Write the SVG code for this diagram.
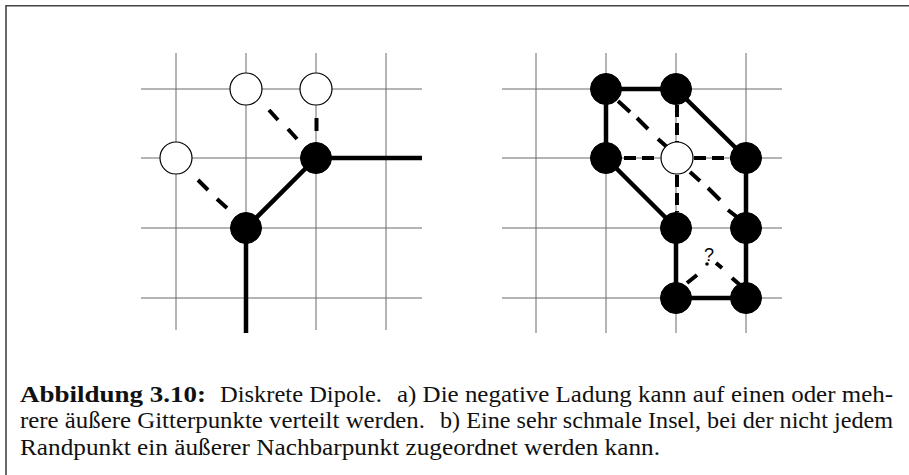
<svg xmlns="http://www.w3.org/2000/svg" width="909" height="475" viewBox="0 0 909 475">
<style>
.grid{stroke:#6a6a6a;stroke-width:1;fill:none}
.frame{stroke:#444;stroke-width:1.6;fill:none}
.solid{stroke:#000;stroke-width:4.5;fill:none}
.dash{stroke:#000;stroke-width:4;fill:none}
.cross{stroke:#000;stroke-width:4;fill:none;stroke-dasharray:12 6}
.full{fill:#000;stroke:#000;stroke-width:1}
.open{fill:#fff;stroke:#000;stroke-width:1.2}
</style>
<rect width="909" height="475" fill="#fff"/>
<path class="frame" d="M6,476 V5.8 H909"/>
<g id="grid">
<path class="grid" d="M176,53V330M246,53V330M316,53V330M386,53V330M141,89H422M141,158H422M141,228H422M141,298H422"/>
<path class="grid" d="M536,53V333M606,53V333M676,53V333M746,53V333M502,89H782M502,158H782M502,228H782M502,298H782"/>
</g>
<g id="connectors">
<path class="solid" d="M316,158H422M316,158L246,228M246,228V333"/>
<path class="dash" d="M269,110L278,120M288,129L297,139M316.5,118V131M198,180L208,190M217,199L227,208"/>
<path class="solid" d="M606,89H676M606,89V158M676,89L746,158M606,158L676,228M746,158V228M676,228V298M746,228V298M676,298H746"/>
<path class="dash" d="M618,101L630,112M637,118L648,129M658,139L667,147M690,172L700,181M708,188L720,200M728,210L737,217"/>
<path class="cross" d="M677,105V142M624,158H660M694,158H731M677,175V212"/>
<path class="dash" d="M687,283L697,275M732,278L740,285M716,263L722,268"/>
<circle cx="707" cy="264" r="1.8" fill="#000"/>
<text x="704" y="261" font-size="18" font-family="Liberation Sans">?</text>
</g>
<g id="nodes-a">
<circle id="a1" class="open" cx="246" cy="89" r="16"/>
<circle id="a2" class="open" cx="316" cy="89" r="16"/>
<circle id="a3" class="open" cx="176" cy="158" r="16"/>
<circle id="a4" class="full" cx="316" cy="158" r="15.5"/>
<circle id="a5" class="full" cx="246" cy="228" r="15.5"/>
</g>
<g id="nodes-b">
<circle id="b1" class="full" cx="606" cy="89" r="15.5"/>
<circle id="b2" class="full" cx="676" cy="89" r="15.5"/>
<circle id="b3" class="full" cx="606" cy="158" r="15.5"/>
<circle id="b4" class="open" cx="677" cy="158" r="16"/>
<circle id="b5" class="full" cx="746" cy="158" r="15.5"/>
<circle id="b6" class="full" cx="676" cy="228" r="15.5"/>
<circle id="b7" class="full" cx="746" cy="228" r="15.5"/>
<circle id="b8" class="full" cx="676" cy="298" r="15.5"/>
<circle id="b9" class="full" cx="746" cy="298" r="15.5"/>
</g>
<g id="caption" fill="#111">
<text x="20" y="402" font-size="22.5" font-family="Liberation Serif" font-weight="700" textLength="186" lengthAdjust="spacingAndGlyphs">Abbildung 3.10:</text>
<text x="220" y="402" font-size="22.5" font-family="Liberation Serif" textLength="162" lengthAdjust="spacingAndGlyphs">Diskrete Dipole.</text>
<text x="397" y="402" font-size="22.5" font-family="Liberation Serif" textLength="496" lengthAdjust="spacingAndGlyphs">a) Die negative Ladung kann auf einen oder meh-</text>
<text x="20" y="428" font-size="22.5" font-family="Liberation Serif" textLength="405" lengthAdjust="spacingAndGlyphs">rere äußere Gitterpunkte verteilt werden.</text>
<text x="440" y="428" font-size="22.5" font-family="Liberation Serif" textLength="453" lengthAdjust="spacingAndGlyphs">b) Eine sehr schmale Insel, bei der nicht jedem</text>
<text x="20" y="455" font-size="22.5" font-family="Liberation Serif" textLength="640" lengthAdjust="spacingAndGlyphs">Randpunkt ein äußerer Nachbarpunkt zugeordnet werden kann.</text>
</g>
</svg>
